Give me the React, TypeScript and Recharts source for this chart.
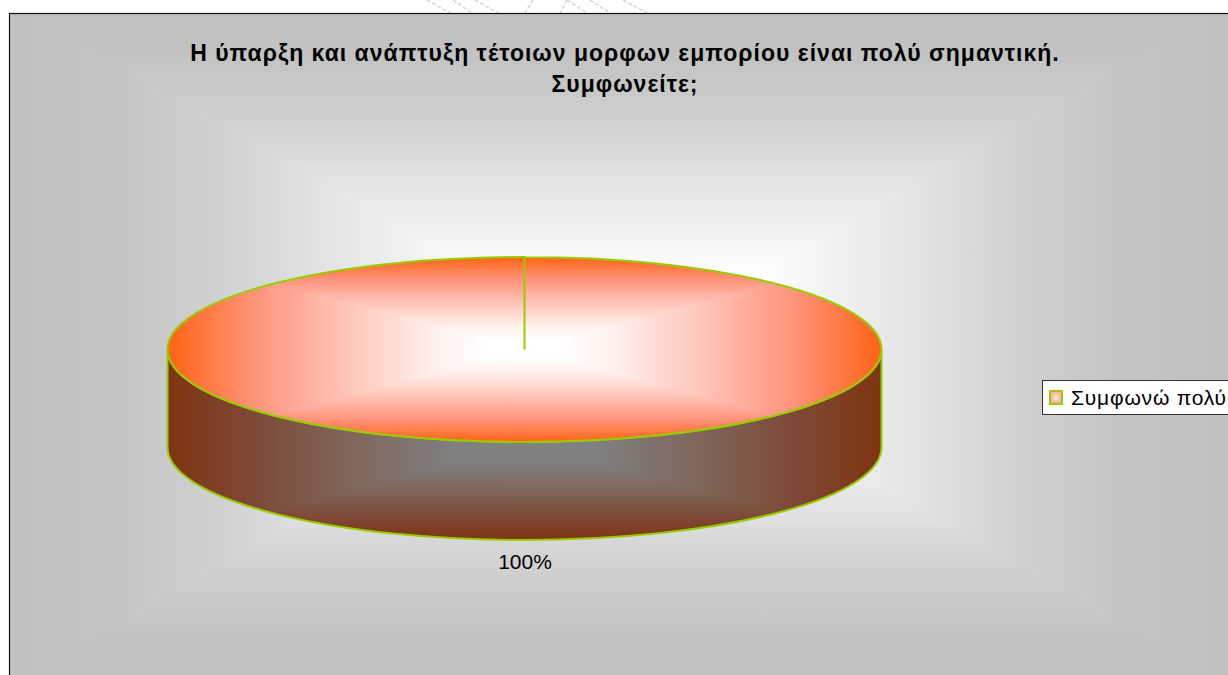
import { PieChart, Pie, Cell, Legend } from 'recharts'

const titleLines = ['Η ύπαρξη και ανάπτυξη τέτοιων μορφων εμπορίου είναι πολύ σημαντική.', 'Συμφωνείτε;']
const answers = ['Συμφωνώ πολύ']
const shares = [100]
const pieData = answers.map((name, i) => ({ name, value: shares[i] }))

// faint strokes of the page behind the chart, above its frame
const pageStrokes = [
  [427, 0, 450, 13], [453, 0, 472, 13], [475, 0, 498, 13], [533, 0, 525, 13],
  [567, 0, 560, 13], [567, 0, 587, 13], [590, 0, 610, 13], [623, 0, 647, 13],
]

const GREEN = '#99cc00'
const TILT = 92.5 / 357
const DEPTH = 98

type Stop = [number, string]

const backStops: Stop[] = [[0, '#c0c0c0'], [0.03, '#c0c0c0'], [0.18, '#c4c4c4'], [0.35, '#d1d1d1'], [0.49, '#e0e0e0'], [0.66, '#f2f2f2'], [0.78, '#ffffff'], [1, '#ffffff']]
const backStopsY: Stop[] = [[0, '#c0c0c0'], [0.105, '#c2c2c2'], [0.227, '#c8c8c8'], [0.323, '#d0d0d0'], [0.414, '#d8d8d8'], [0.474, '#e0e0e0'], [0.565, '#e8e8e8'], [0.686, '#f4f4f4'], [0.79, '#ffffff'], [1, '#ffffff']]
const topStops: Stop[] = [[0, '#ff6414'], [0.25, '#ff947c'], [0.5, '#ffc4b8'], [0.75, '#fff0ec'], [0.9, '#ffffff'], [1, '#ffffff']]
const sideStops: Stop[] = [[0, '#7f3410'], [0.25, '#7e4a38'], [0.5, '#7f6558'], [0.8, '#808080'], [1, '#808080']]
const keyStops: Stop[] = [[0, '#ff9a70'], [0.5, '#ffc4b8'], [1, '#fff0f0']]

// mirror edge->centre stops so one list covers the whole span
const mirrored = (stops: Stop[]) => [
  ...stops.map(([o, c]) => [o / 2, c] as Stop),
  ...[...stops].reverse().map(([o, c]) => [1 - o / 2, c] as Stop),
]

// Rectangular "path" fill: two crossed linear gradients, the darker one wins per pixel
function PathFill({ id, x, y, width, height, stops, stopsY, clip }: any) {
  const row = (s: Stop[]) => mirrored(s).map(([o, c], i) => <stop key={i} offset={o} stopColor={c} />)
  return (
    <g clipPath={clip ? `url(#${clip})` : undefined} style={{ isolation: 'isolate' }}>
      <defs>
        <linearGradient id={`${id}-h`} x1="0" y1="0" x2="1" y2="0">{row(stops)}</linearGradient>
        <linearGradient id={`${id}-v`} x1="0" y1="0" x2="0" y2="1">{row(stopsY || stops)}</linearGradient>
      </defs>
      <rect x={x} y={y} width={width} height={height} fill={`url(#${id}-h)`} />
      <rect x={x} y={y} width={width} height={height} fill={`url(#${id}-v)`} style={{ mixBlendMode: 'darken' }} />
    </g>
  )
}

// Flattened cylinder slice; the angles come from the pie layout
function CylinderSlice({ cx, cy, outerRadius, startAngle, endAngle }: any) {
  const rx = outerRadius
  const ry = outerRadius * TILT
  const top = cy - ry
  const left = cx - rx
  const at = (deg: number) => {
    const a = (deg * Math.PI) / 180
    return [cx + rx * Math.cos(a), cy - ry * Math.sin(a)]
  }
  const [sx, sy] = at(startAngle)
  const [mx, my] = at((startAngle + endAngle) / 2)
  const [ex, ey] = at(endAngle)
  const rim = `M ${sx} ${sy} A ${rx} ${ry} 0 0 1 ${mx} ${my} A ${rx} ${ry} 0 0 1 ${ex} ${ey}`
  const side = `M ${left} ${cy} A ${rx} ${ry} 0 0 0 ${cx + rx} ${cy} L ${cx + rx} ${cy + DEPTH} A ${rx} ${ry} 0 0 1 ${left} ${cy + DEPTH} Z`
  return (
    <g>
      <clipPath id="cyl-side"><path d={side} /></clipPath>
      <clipPath id="cyl-top"><path d={`${rim} Z`} /></clipPath>
      <PathFill id="side" x={left} y={cy} width={rx * 2} height={ry + DEPTH} stops={sideStops} clip="cyl-side" />
      <path d={side} fill="none" stroke={GREEN} strokeWidth={2} />
      <PathFill id="top" x={left} y={top} width={rx * 2} height={ry * 2} stops={topStops} clip="cyl-top" />
      <path d={`${rim} L ${cx} ${cy} Z`} fill="none" stroke={GREEN} strokeWidth={2} />
    </g>
  )
}

const renderPercent = ({ cx, cy, outerRadius, percent }: any) => (
  <text
    x={cx + 0.5}
    y={cy + outerRadius * TILT + DEPTH + 29}
    textAnchor="middle"
    fontFamily="Liberation Sans"
    fontSize={21}
    fill="#000"
  >
    {`${Math.round(percent * 100)}%`}
  </text>
)

const renderLegend = ({ payload }: any) => (
  <div
    style={{
      boxSizing: 'border-box',
      width: 230,
      height: 35,
      background: '#fff',
      border: '1px solid #333',
      display: 'flex',
      alignItems: 'center',
      fontFamily: 'Liberation Sans',
      fontSize: 21,
      letterSpacing: 0.8,
      color: '#000',
      whiteSpace: 'nowrap',
    }}
  >
    {(payload || []).map((entry: any) => (
      <span key={entry.value} style={{ display: 'flex', alignItems: 'center' }}>
        <svg width={14} height={15} style={{ marginLeft: 6, marginRight: 8 }}>
          <PathFill id="key" x={1} y={1} width={12} height={13} stops={keyStops} />
          <rect x={1} y={1} width={12} height={13} fill="none" stroke={GREEN} strokeWidth={2} />
        </svg>
        {entry.value}
      </span>
    ))}
  </div>
)

export default function App() {
  return (
    <div style={{ position: 'absolute', left: 0, top: 0, width: 1228, height: 675, overflow: 'hidden', background: '#fff' }}>
      <PieChart width={1228} height={675} margin={{ top: 0, right: 0, bottom: 0, left: 0 }}>
        {pageStrokes.map(([x1, y1, x2, y2], i) => (
          <line key={i} x1={x1} y1={y1} x2={x2} y2={y2} stroke="#d4d4d4" strokeWidth={1.5} strokeDasharray="4 2" />
        ))}
        <PathFill id="back" x={10} y={13} width={1220} height={662} stops={backStops} stopsY={backStopsY} />
        <rect x={9.5} y={13.5} width={1240} height={680} fill="none" stroke="#111" strokeWidth={1.2} />
        {titleLines.map((line, i) => (
          <text
            key={line}
            x={625}
            y={61 + i * 31}
            textAnchor="middle"
            fontFamily="Liberation Sans"
            fontWeight="bold"
            fontSize={23}
            letterSpacing={1}
            fill="#000"
          >
            {line}
          </text>
        ))}
        <Pie
          data={pieData}
          dataKey="value"
          nameKey="name"
          cx={524.5}
          cy={349.5}
          outerRadius={357}
          startAngle={90}
          endAngle={-270}
          stroke="none"
          shape={CylinderSlice}
          label={renderPercent}
          labelLine={false}
          isAnimationActive={false}
        >
          {pieData.map((d) => (
            <Cell key={d.name} fill="#ff6414" />
          ))}
        </Pie>
        <Legend content={renderLegend} wrapperStyle={{ left: 1042, top: 380, width: 230, bottom: 'auto', right: 'auto' }} />
      </PieChart>
    </div>
  )
}
